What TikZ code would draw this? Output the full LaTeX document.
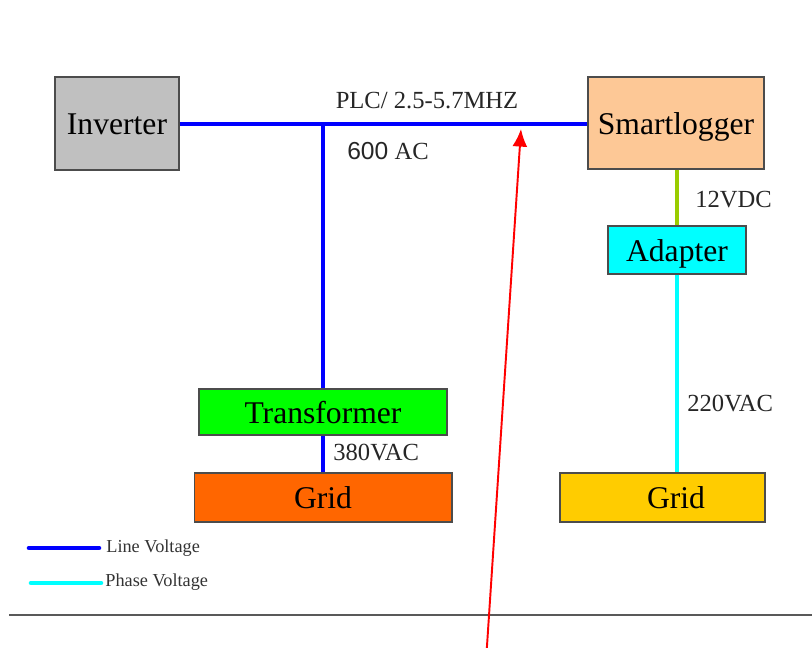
\documentclass[tikz,border=0pt]{standalone}
\usepackage{fontspec}
\setmainfont{Liberation Serif}
\newfontfamily\arialfont{Liberation Sans}
\usetikzlibrary{arrows.meta}

\definecolor{invgray}{HTML}{C0C0C0}
\definecolor{peach}{HTML}{FDC896}
\definecolor{trgreen}{HTML}{00FF00}
\definecolor{gridorange}{HTML}{FF6600}
\definecolor{gridyellow}{HTML}{FFCC00}
\definecolor{adcyan}{HTML}{00FFFF}
\definecolor{lineblue}{HTML}{0000FF}
\definecolor{dclime}{HTML}{99CC00}

\begin{document}
\begin{tikzpicture}[x=0.02cm,y=-0.02cm,
  unit/.style={draw=black!70,line width=0.6pt,inner sep=0pt,text height=13pt,text depth=0pt,font=\fontsize{18}{20}\selectfont},
  wire/.style={line width=2.3pt},
  tag/.style={inner sep=0pt,text=black!85,font=\fontsize{14}{16}\selectfont},
  legend/.style={inner sep=0pt,text=black!80,font=\fontsize{10.4}{12}\selectfont}]
  \useasboundingbox (0,0) rectangle (812,648);

  \node[unit,fill=invgray,minimum width=2.48cm,minimum height=1.86cm] (inverter) at (117,123.5) {Inverter};
  \node[unit,fill=peach,minimum width=3.52cm,minimum height=1.84cm] (smartlogger) at (676,123) {Smartlogger};
  \node[unit,fill=trgreen,minimum width=4.96cm,minimum height=0.92cm] (transformer) at (323,412) {Transformer};
  \node[unit,fill=gridorange,minimum width=5.16cm,minimum height=0.98cm] (gridac) at (323,497.5) {Grid};
  \node[unit,fill=adcyan,minimum width=2.76cm,minimum height=0.96cm] (adapter) at (677,250) {Adapter};
  \node[unit,fill=gridyellow,minimum width=4.1cm,minimum height=0.98cm] (gridph) at (662.5,497.5) {\hspace*{0.54cm}Grid};

  \coordinate (tap) at (323,124);
  \draw[wire,lineblue] (inverter.east |- tap) -- (tap -| smartlogger.west);
  \draw[wire,lineblue] (tap) -- (transformer.north);
  \draw[wire,lineblue] (transformer.south) -- (gridac.north);
  \draw[wire,dclime] (smartlogger.south -| adapter.north) -- (adapter.north);
  \draw[wire,adcyan] (adapter.south) -- (adapter.south |- gridph.north);

  \node[tag] (plc) at (427,101) {PLC/ 2.5-5.7MHZ};
  \node[tag] (ac600) at (388,151) {{\arialfont 600} AC};
  \node[tag,anchor=west] (vac380) at (333,453) {380VAC};
  \node[tag,anchor=west] (vdc12) at (695,200) {12VDC};
  \node[tag,anchor=west] (vac220) at (687,404) {220VAC};

  % legend
  \coordinate (lineleft) at (29,548);
  \coordinate (phaseleft) at (31,583);
  \node[legend,anchor=west] (lineleg) at (106,548) {Line Voltage};
  \node[legend,anchor=west] (phaseleg) at (105,582) {Phase Voltage};
  \draw[line width=2.6pt,line cap=round,lineblue] (lineleft) -- (99,548);
  \draw[line width=2.6pt,line cap=round,adcyan] (phaseleft) -- (101,583);

  \draw[black!65,line width=1pt] (9,615) -- (812,615);

  \coordinate (pointer) at (486.6,652);
  \coordinate (target) at (521,129);
  \draw[red,line width=1.1pt,-{Latex[length=10pt,width=8.5pt]}] (pointer) -- (target);
\end{tikzpicture}
\end{document}
